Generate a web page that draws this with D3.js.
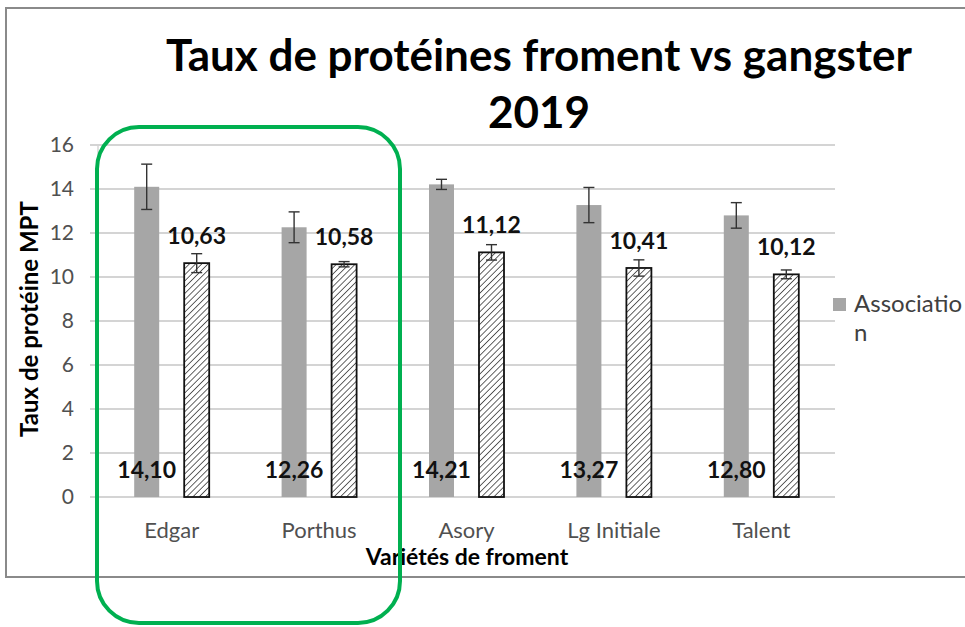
<!DOCTYPE html>
<html>
<head>
<meta charset="utf-8">
<script src="https://cdn.jsdelivr.net/npm/d3@7"></script>
<style>
  body { margin: 0; background: #fff; }
</style>
</head>
<body>
<div id="chart"></div>
<script>
var varieties = ["Edgar", "Porthus", "Asory", "Lg Initiale", "Talent"];
var association = [14.10, 12.26, 14.21, 13.27, 12.80];
var associationErr = [1.03, 0.70, 0.23, 0.80, 0.58];
var pure = [10.63, 10.58, 11.12, 10.41, 10.12];
var pureErr = [0.43, 0.12, 0.35, 0.37, 0.20];
var yTicks = [0, 2, 4, 6, 8, 10, 12, 14, 16];
var seriesNames = ["Association", "Pur"];
var titleLines = ["Taux de protéines froment vs gangster", "2019"];

var barFill = "#a6a6a6";
var gridColor = "#d4d4d4";
var tickColor = "#505050";
var fontFamily = "Lato, 'Open Sans', sans-serif";

const width = 965;
const height = 627;
const plot = { left: 98, right: 835, top: 145, bottom: 497 };

function textAttr(selection, fill, fontSize, weight) {
  selection
    .attr("fill", fill)
    .attr("font-family", fontFamily)
    .attr("font-size", fontSize)
    .attr("font-weight", weight || "normal");
}

function fmt(v) {
  return d3.format(".2f")(v).replace(".", ",");
}

let svg = d3.select("#chart")
  .append("svg")
  .attr("width", width)
  .attr("height", height);

// hatch for the second series
let pattern = svg.append("defs")
  .append("pattern")
  .attr("id", "hatch")
  .attr("patternUnits", "userSpaceOnUse")
  .attr("width", 4.4)
  .attr("height", 4.4)
  .attr("patternTransform", "rotate(45)");
pattern.append("rect")
  .attr("width", 4.4)
  .attr("height", 4.4)
  .attr("fill", "#fff");
pattern.append("line")
  .attr("x1", 0).attr("y1", 0)
  .attr("x2", 0).attr("y2", 4.4)
  .attr("stroke", "#222")
  .attr("stroke-width", 1.4);

// chart frame
svg.append("rect")
  .attr("x", 6)
  .attr("y", 8)
  .attr("width", 990)
  .attr("height", 569)
  .attr("fill", "none")
  .attr("stroke", "#8a8a8a")
  .attr("stroke-width", 2);

let y = d3.scaleLinear()
  .domain([0, 16])
  .range([plot.bottom, plot.top]);

let x = d3.scaleBand()
  .domain(varieties)
  .range([plot.left, plot.right]);

let xs = d3.scaleBand()
  .domain([0, 1])
  .range([x.bandwidth() / 2 - 37.5, x.bandwidth() / 2 + 37.5])
  .paddingInner(0.5);

// gridlines
svg.append("g")
  .selectAll("line")
  .data(yTicks)
  .enter()
  .append("line")
  .attr("x1", plot.left - 8)
  .attr("x2", plot.right)
  .attr("y1", d => y(d))
  .attr("y2", d => y(d))
  .attr("stroke", gridColor)
  .attr("stroke-width", 2);

svg.append("line")
  .attr("x1", plot.left).attr("x2", plot.left)
  .attr("y1", plot.top).attr("y2", plot.bottom)
  .attr("stroke", gridColor)
  .attr("stroke-width", 1.5);

let yAxis = svg.append("g")
  .attr("transform", `translate(${plot.left},0)`)
  .call(d3.axisLeft(y).tickValues(yTicks).tickSize(0).tickPadding(24));
yAxis.select(".domain").remove();
yAxis.selectAll("text").call(textAttr, tickColor, "21px");

let xAxis = svg.append("g")
  .attr("transform", `translate(0,${plot.bottom})`)
  .call(d3.axisBottom(x).tickSize(0).tickPadding(25));
xAxis.select(".domain").remove();
xAxis.selectAll("text").call(textAttr, tickColor, "22px");

// bars
let rows = varieties.map((name, i) => ({
  name: name,
  values: [
    { s: 0, v: association[i], e: associationErr[i] },
    { s: 1, v: pure[i], e: pureErr[i] }
  ]
}));

let groups = svg.append("g")
  .selectAll("g")
  .data(rows)
  .enter()
  .append("g")
  .attr("transform", d => `translate(${x(d.name)},0)`);

let cells = groups.selectAll("g")
  .data(d => d.values)
  .enter()
  .append("g");

cells.append("rect")
  .attr("x", d => xs(d.s))
  .attr("y", d => y(d.v))
  .attr("width", xs.bandwidth())
  .attr("height", d => y(0) - y(d.v))
  .attr("fill", d => d.s === 0 ? barFill : "url(#hatch)")
  .attr("stroke", d => d.s === 0 ? "none" : "#111")
  .attr("stroke-width", 1.8);

// error bars
let err = cells.append("g")
  .attr("stroke", "#333")
  .attr("stroke-width", 1.4);
err.append("line")
  .attr("x1", d => xs(d.s) + xs.bandwidth() / 2)
  .attr("x2", d => xs(d.s) + xs.bandwidth() / 2)
  .attr("y1", d => y(d.v + d.e))
  .attr("y2", d => y(d.v - d.e));
err.append("line")
  .attr("x1", d => xs(d.s) + xs.bandwidth() / 2 - 5.5)
  .attr("x2", d => xs(d.s) + xs.bandwidth() / 2 + 5.5)
  .attr("y1", d => y(d.v + d.e))
  .attr("y2", d => y(d.v + d.e));
err.append("line")
  .attr("x1", d => xs(d.s) + xs.bandwidth() / 2 - 5.5)
  .attr("x2", d => xs(d.s) + xs.bandwidth() / 2 + 5.5)
  .attr("y1", d => y(d.v - d.e))
  .attr("y2", d => y(d.v - d.e));

// value labels: first series at the base, second above the bar
cells.append("text")
  .attr("x", d => xs(d.s) + xs.bandwidth() / 2)
  .attr("y", d => (d.s === 0 ? y(0) : y(d.v)) - 19)
  .attr("text-anchor", "middle")
  .text(d => fmt(d.v))
  .call(textAttr, "#111", "23px", "bold");

// title
svg.append("text")
  .attr("x", 539)
  .attr("y", 71)
  .attr("text-anchor", "middle")
  .text(titleLines[0])
  .call(textAttr, "#000", "44px", "bold");
svg.append("text")
  .attr("x", 539)
  .attr("y", 128)
  .attr("text-anchor", "middle")
  .text(titleLines[1])
  .call(textAttr, "#000", "44px", "bold");

// axis titles
svg.append("text")
  .attr("transform", "translate(38,319) rotate(-90)")
  .attr("text-anchor", "middle")
  .text("Taux de protéine MPT")
  .call(textAttr, "#000", "24px", "bold");

svg.append("text")
  .attr("x", 467)
  .attr("y", 565)
  .attr("text-anchor", "middle")
  .text("Variétés de froment")
  .call(textAttr, "#000", "23px", "bold");

// legend (wrapped like the original)
svg.append("rect")
  .attr("x", 833)
  .attr("y", 298)
  .attr("width", 13)
  .attr("height", 13)
  .attr("fill", barFill);
let legendText = svg.append("text")
  .call(textAttr, "#404040", "24px");
legendText.append("tspan")
  .attr("x", 854).attr("y", 312)
  .text(seriesNames[0].slice(0, 10));
legendText.append("tspan")
  .attr("x", 854).attr("y", 341)
  .text(seriesNames[0].slice(10));

// green highlight around the first two varieties
svg.append("rect")
  .attr("x", 97)
  .attr("y", 127)
  .attr("width", 303)
  .attr("height", 496)
  .attr("rx", 42)
  .attr("fill", "none")
  .attr("stroke", "#00b050")
  .attr("stroke-width", 4);
</script>
</body>
</html>
